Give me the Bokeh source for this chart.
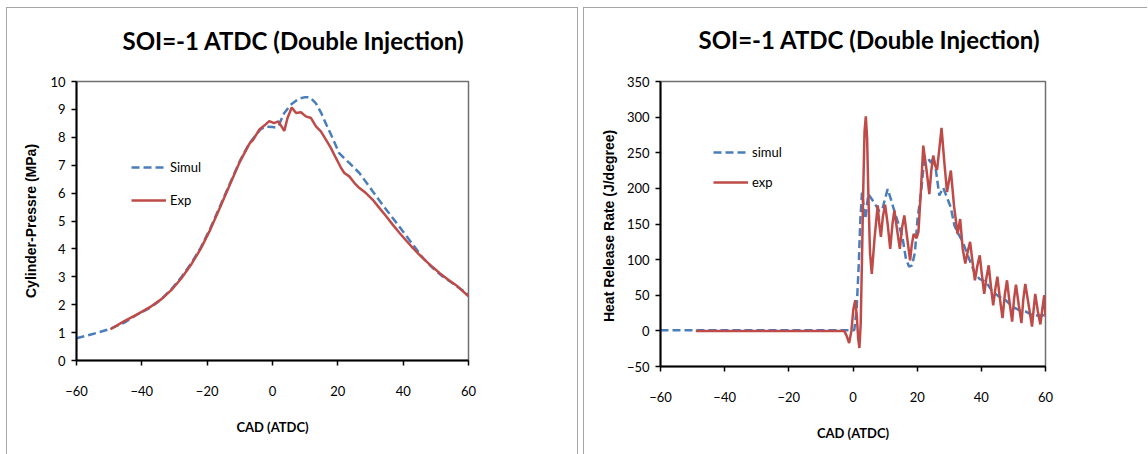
from bokeh.plotting import figure
from bokeh.models import Range1d, FixedTicker, Title
from bokeh.layouts import row, column
from bokeh.embed import file_html
from bokeh.resources import INLINE

# ---------------- data ----------------
title_text = "SOI=-1 ATDC (Double Injection)"
x_ticks = [-60, -40, -20, 0, 20, 40, 60]
p_ticks = [0, 1, 2, 3, 4, 5, 6, 7, 8, 9, 10]
h_ticks = [-50, 0, 50, 100, 150, 200, 250, 300, 350]

# Cylinder pressure, simulation
cad_p_sim = [-60, -55, -50, -45, -41.4, -37, -34, -31, -28, -25, -22, -19, -16, -13, -10, -7, -5,
             -3.5, -2, 0, 1, 2, 3.5, 5.5, 8, 10, 11.5, 13.3, 15, 16.5, 18.4, 20.4, 23.5, 26.6,
             30.7, 33.7, 36.8, 39.9, 43, 46, 49, 52, 55, 57.5, 60]
p_sim = [0.80, 0.95, 1.12, 1.38, 1.65, 1.92, 2.2, 2.55, 2.97, 3.46, 4.04, 4.75, 5.55, 6.35, 7.15,
         7.8, 8.1, 8.3, 8.38, 8.37, 8.35, 8.45, 8.85, 9.16, 9.38, 9.44, 9.43, 9.22, 8.85, 8.45,
         7.97, 7.43, 7.08, 6.72, 6.06, 5.58, 5.11, 4.63, 4.15, 3.68, 3.32, 3.02, 2.78, 2.57, 2.36]

# Cylinder pressure, experiment
cad_p_exp = [-49.6, -45.5, -41, -37, -34, -31, -28, -25, -22, -19, -16, -13, -10, -7, -6, -4,
             -2.5, -1.0, 0.5, 1.8, 3.6, 4.6, 5.9, 7.2, 8.7, 10.2, 11.8, 13.3, 14.8, 16.4, 17.9,
             19.4, 21.0, 22.0, 23.5, 25.1, 26.6, 28.6, 30.7, 32.7, 34.8, 36.8, 38.9, 40.9, 43.0,
             45.0, 47.0, 49.1, 51.1, 53.7, 56.2, 60]
p_exp = [1.12, 1.4, 1.68, 1.95, 2.2, 2.52, 2.93, 3.42, 4.0, 4.7, 5.5, 6.32, 7.12, 7.78, 7.9, 8.28,
         8.42, 8.58, 8.51, 8.57, 8.23, 8.69, 9.07, 8.87, 8.9, 8.75, 8.69, 8.39, 8.21, 7.91, 7.61,
         7.26, 6.9, 6.72, 6.6, 6.36, 6.18, 6.0, 5.76, 5.47, 5.17, 4.87, 4.57, 4.3, 4.03, 3.79,
         3.56, 3.34, 3.14, 2.9, 2.7, 2.3]

# Heat release rate, simulation
cad_h_sim = [-60, -50, -40, -20, -1, 0.4, 1.14, 1.77, 2.3, 2.8, 3.84, 4.77, 6.6, 8.2, 9.2, 10.8,
             11.8, 12.9, 14.4, 15.5, 16.5, 17.5, 18.4, 19.3, 20.1, 21.2, 22.2, 23.2, 24.3, 25.0,
             25.8, 26.9, 28.1, 29.5, 30.5, 31.6, 32.6, 34.2, 36.2, 37.8, 39.4, 41.4, 43.5, 45.6,
             47.6, 49.7, 51.8, 53.9, 55.9, 58.0, 60]
h_sim = [1, 1, 1, 1, 1, 1, 31, 91, 157, 194, 157, 192, 180, 168, 172, 199, 185, 168, 147, 129,
         101, 90, 92, 110, 157, 194, 241, 243, 236, 245, 227, 190, 201, 185, 173, 148, 138, 125,
         101, 83, 73, 69, 55, 48, 43, 34, 29, 27, 22, 21.5, 22]

# Heat release rate, experiment
cad_h_exp = [-49, -20, -2.7, -1.9, -1.2, -0.5, 0.1, 0.7, 1.2, 1.6, 2.0, 2.4, 2.8, 3.2, 3.6, 4.0,
             4.4, 4.8, 5.3, 5.85, 6.7, 7.7, 8.2, 8.7, 9.3, 10.0, 10.8, 11.6, 12.3, 12.9, 13.8, 14.6,
             15.3, 16.0, 16.9, 17.8, 18.3, 18.9, 19.8, 20.4, 21.2, 21.9, 22.8, 23.8, 24.4, 25.0,
             25.6, 26.2, 26.9, 27.6, 28.4, 29.3, 29.9, 30.5, 31.5, 32.6, 33.4, 34.2, 35.0, 35.8,
             36.5, 37.3, 38.0, 38.8, 39.5, 40.2, 40.9, 41.6, 42.3, 43.0, 43.7, 44.4, 45.0, 45.8,
             46.6, 47.3, 48.0, 48.8, 49.6, 50.2, 50.8, 51.7, 52.5, 53.1, 53.7, 54.8, 55.8, 56.3,
             56.8, 57.6, 58.4, 59.0, 59.6, 60]
h_exp = [0, 0, 0, -8, -17, 0, 30, 43, 20, -10, -24, 10, 100, 200, 280, 301, 270, 190, 110, 80,
         129, 176, 150, 132, 160, 177, 150, 115, 150, 169, 140, 115, 145, 162, 130, 99, 120, 136,
         130, 139, 200, 260, 230, 192, 225, 246, 232, 226, 255, 285, 240, 195, 210, 225, 175, 136,
         157, 115, 94.5, 112, 125, 95, 71, 92, 106, 78, 52, 75, 92, 62, 36, 60, 76, 45, 18, 50,
         71, 40, 13, 45, 65, 35, 11, 45, 66, 35, 6, 30, 52, 28, 9, 30, 50, 20]

# ---------------- styling ----------------
MAIN_FONT = "Lato"
LABEL_FONT = "Liberation Sans"
BLUE = "#4a7ebb"
RED = "#be4b48"
PANEL_BORDER = "1px solid #a6a6a6"


def make_panel(width, height, mbl, mbr, yr, yticks, ylabel, title_offset, spacer, ylab_standoff):
    p = figure(width=width, height=height, output_backend="svg", toolbar_location=None,
               title=None, x_range=Range1d(-60, 60), y_range=Range1d(*yr),
               min_border_left=mbl, min_border_right=mbr, min_border_top=73,
               min_border_bottom=88, background_fill_color="white",
               border_fill_color="white")

    # invisible spacer between frame and title, then the title itself
    p.add_layout(Title(text=" ", text_font_size="1px", standoff=spacer), "above")
    p.add_layout(Title(text=title_text, align="left", offset=title_offset, standoff=10,
                       text_font=MAIN_FONT, text_font_style="bold", text_font_size="24px",
                       text_color="black"), "above")

    p.xgrid.visible = False
    p.ygrid.visible = False
    p.outline_line_color = "#6f6f6f"
    p.outline_line_width = 1.5

    for ax in (p.xaxis[0], p.yaxis[0]):
        ax.axis_line_color = "black"
        ax.axis_line_width = 2
        ax.major_tick_line_color = "black"
        ax.major_tick_line_width = 1.5
        ax.major_tick_in = 0
        ax.major_tick_out = 5
        ax.minor_tick_line_color = None
        ax.major_label_text_font = MAIN_FONT
        ax.major_label_text_font_size = "13px"
        ax.major_label_text_color = "black"
        ax.axis_label_text_color = "black"
        ax.axis_label_text_font_style = "bold"

    p.xaxis.ticker = FixedTicker(ticks=x_ticks)
    p.xaxis.axis_label = "CAD (ATDC)"
    p.xaxis.axis_label_text_font = MAIN_FONT
    p.xaxis.axis_label_text_font_size = "13px"
    p.xaxis.major_label_standoff = 20
    p.xaxis.axis_label_standoff = 20

    p.yaxis.ticker = FixedTicker(ticks=yticks)
    p.yaxis.axis_label = ylabel
    p.yaxis.axis_label_text_font = LABEL_FONT
    p.yaxis.axis_label_text_font_size = "14px"
    p.yaxis.major_label_standoff = 6
    p.yaxis.axis_label_standoff = ylab_standoff
    return p


def style_legend(p, loc, spacing):
    lg = p.legend[0]
    lg.location = loc
    lg.padding = 0
    lg.margin = 0
    lg.spacing = spacing
    lg.glyph_width = 35
    lg.glyph_height = 20
    lg.label_height = 20
    lg.label_standoff = 4
    lg.border_line_alpha = 0
    lg.background_fill_alpha = 0
    lg.label_text_font = MAIN_FONT
    lg.label_text_font_size = "13px"
    lg.label_text_color = "black"


p1 = make_panel(570, 440, 69, 109, (0, 10), p_ticks, "Cylinder-Pressre (MPa)", 46, 19, 8)
p1.line(cad_p_sim, p_sim, line_color=BLUE, line_width=2.5, line_dash="8 4", legend_label="Simul")
p1.line(cad_p_exp, p_exp, line_color=RED, line_width=2.5, legend_label="Exp")
style_legend(p1, (55, 150), 13)

p2 = make_panel(563, 446, 76, 102, (-50, 350), h_ticks, "Heat Release Rate  (J/degree)", 38,
                20, 7)
p2.line(cad_h_sim, h_sim, line_color=BLUE, line_width=2.5, line_dash="8 4", legend_label="simul")
p2.line(cad_h_exp, h_exp, line_color=RED, line_width=2.5, legend_label="exp")
style_legend(p2, (53, 174), 10)

box1 = column(p1, width=572, height=447,
              styles={"border-left": PANEL_BORDER, "border-top": PANEL_BORDER,
                      "border-right": PANEL_BORDER, "box-sizing": "border-box"})
box2 = column(p2, width=564, height=447,
              styles={"border-left": PANEL_BORDER, "border-top": PANEL_BORDER,
                      "box-sizing": "border-box"})

layout = row(box1, box2, spacing=5, margin=(7, 0, 0, 6))
open("out.html", "w").write(file_html(layout, INLINE))
